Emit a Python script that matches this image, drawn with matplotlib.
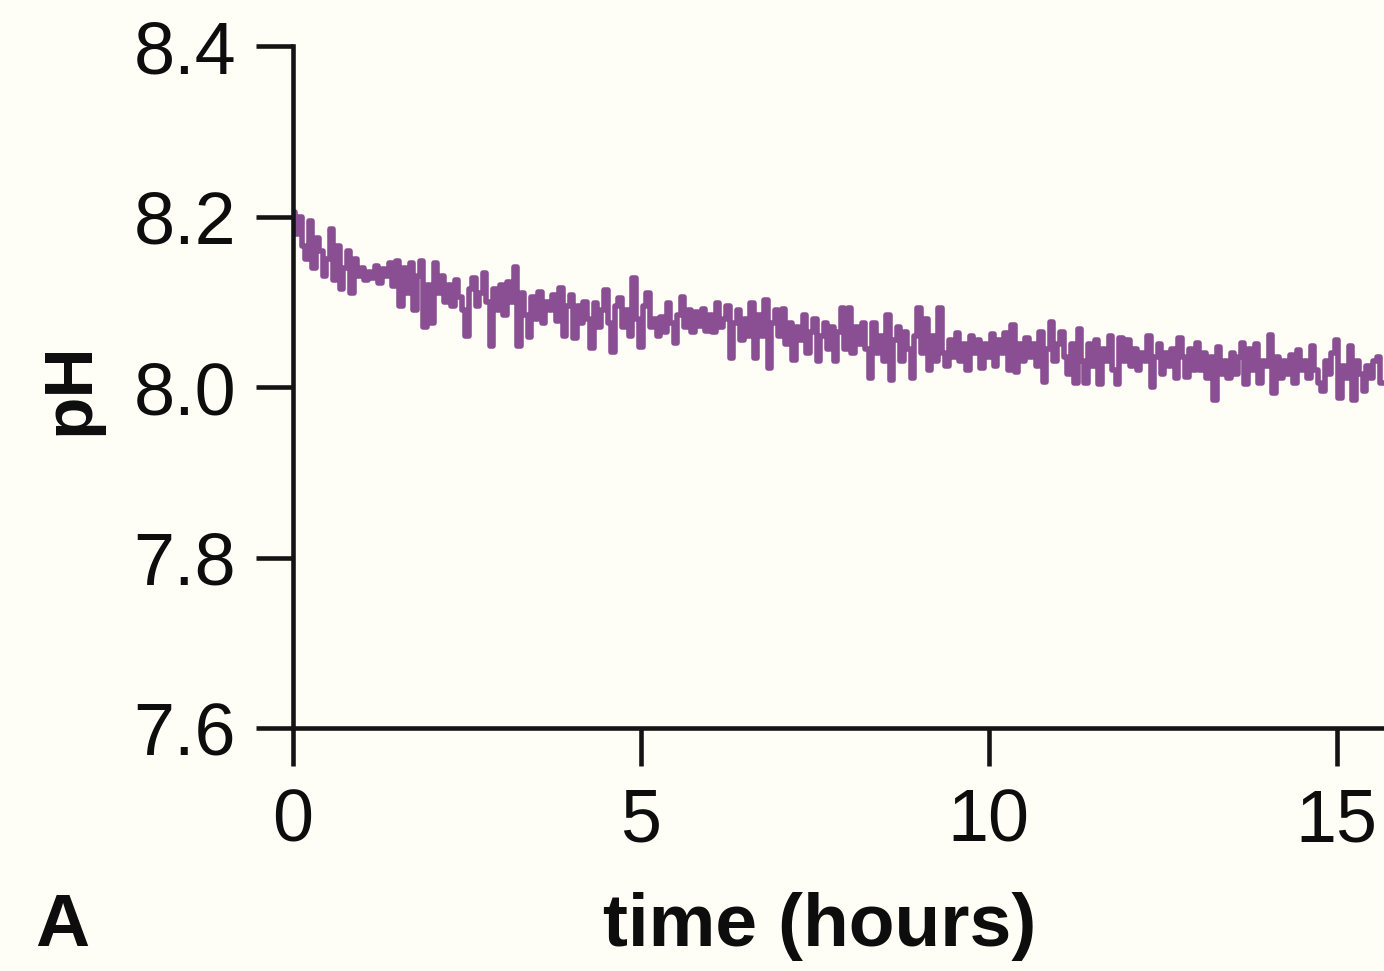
import numpy as np
import matplotlib
matplotlib.use("Agg")
import matplotlib.pyplot as plt

# pH readings, one every 0.05 hours
ph = [
    8.205, 8.180, 8.200, 8.165, 8.150, 8.195, 8.140, 8.175, 8.160, 8.130,
    8.150, 8.185, 8.125, 8.165, 8.115, 8.140, 8.160, 8.110, 8.150, 8.130,
    8.140, 8.125, 8.135, 8.128, 8.142, 8.122, 8.138, 8.130, 8.145, 8.118,
    8.148, 8.095, 8.140, 8.110, 8.145, 8.090, 8.130, 8.148, 8.070, 8.120,
    8.075, 8.145, 8.110, 8.130, 8.100, 8.120, 8.095, 8.125, 8.105, 8.090,
    8.060, 8.115, 8.128, 8.095, 8.110, 8.134, 8.100, 8.048, 8.115, 8.090,
    8.120, 8.085, 8.123, 8.100, 8.141, 8.048, 8.110, 8.085, 8.059, 8.105,
    8.080, 8.112, 8.075, 8.100, 8.090, 8.108, 8.078, 8.116, 8.060, 8.095,
    8.108, 8.058, 8.095, 8.075, 8.100, 8.080, 8.046, 8.098, 8.070, 8.090,
    8.114, 8.075, 8.041, 8.095, 8.104, 8.070, 8.090, 8.060, 8.128, 8.080,
    8.047, 8.095, 8.110, 8.070, 8.080, 8.060, 8.082, 8.065, 8.098, 8.075,
    8.052, 8.085, 8.106, 8.070, 8.090, 8.065, 8.088, 8.072, 8.092, 8.066,
    8.085, 8.065, 8.098, 8.070, 8.080, 8.095, 8.034, 8.075, 8.090, 8.055,
    8.080, 8.060, 8.098, 8.034, 8.085, 8.060, 8.102, 8.022, 8.075, 8.090,
    8.060, 8.092, 8.050, 8.075, 8.032, 8.070, 8.055, 8.085, 8.040, 8.065,
    8.080, 8.030, 8.060, 8.075, 8.045, 8.070, 8.030, 8.065, 8.093, 8.045,
    8.093, 8.040, 8.070, 8.050, 8.075, 8.045, 8.011, 8.075, 8.040, 8.060,
    8.030, 8.084, 8.008, 8.055, 8.070, 8.030, 8.065, 8.045, 8.010, 8.060,
    8.093, 8.040, 8.080, 8.020, 8.060, 8.030, 8.093, 8.040, 8.025, 8.055,
    8.035, 8.063, 8.030, 8.050, 8.020, 8.060, 8.040, 8.055, 8.022, 8.050,
    8.035, 8.062, 8.025, 8.055, 8.040, 8.063, 8.020, 8.073, 8.018, 8.050,
    8.030, 8.058, 8.035, 8.050, 8.025, 8.065, 8.006, 8.045, 8.076, 8.030,
    8.050, 8.065, 8.035, 8.015, 8.050, 8.005, 8.068, 8.030, 8.005, 8.050,
    8.025, 8.055, 8.003, 8.045, 8.030, 8.060, 8.020, 8.003, 8.058, 8.030,
    8.055, 8.025, 8.045, 8.020, 8.040, 8.030, 8.060, 8.000, 8.035, 8.050,
    8.015, 8.040, 8.025, 8.045, 8.010, 8.057, 8.035, 8.012, 8.045, 8.020,
    8.052, 8.020, 8.040, 8.010, 8.035, 7.985, 8.047, 8.015, 8.030, 8.010,
    8.040, 8.015, 8.035, 8.052, 8.003, 8.045, 8.020, 8.050, 8.005, 8.030,
    8.025, 8.061, 7.993, 8.035, 8.010, 8.030, 8.015, 8.038, 8.005, 8.043,
    8.020, 8.030, 8.010, 8.048, 8.020, 8.005, 7.995, 8.030, 8.015, 8.040,
    8.055, 7.987, 8.025, 8.010, 8.048, 7.985, 8.030, 8.015, 7.995, 8.025,
    8.010, 8.030, 8.035, 8.005,
]
sample_step = 0.05  # hours between readings
hours = np.arange(len(ph)) * sample_step

x_ticks = [0, 5, 10, 15]
y_ticks = [7.6, 7.8, 8.0, 8.2, 8.4]
y_tick_labels = ["7.6", "7.8", "8.0", "8.2", "8.4"]

plt.rcParams["font.family"] = ["Liberation Sans", "DejaVu Sans"]
bg = "#fefef7"

fig = plt.figure(figsize=(13.84, 9.71), dpi=100, facecolor=bg)
ax = fig.add_axes([293 / 1384, 243 / 971, 1 - 293 / 1384, 682 / 971])
ax.set_facecolor(bg)

# trace looks blocky in the original, so draw it stepped
ax.plot(hours, ph, color="#8a4f92", lw=4.0, drawstyle="steps-mid")

ax.set_xlim(0, 15.68)
ax.set_ylim(7.6, 8.4)
ax.set_xticks(x_ticks)
ax.set_yticks(y_ticks)
ax.set_yticklabels(y_tick_labels)

for side in ["top", "right"]:
    ax.spines[side].set_visible(False)
for side in ["left", "bottom"]:
    ax.spines[side].set_linewidth(3.3)
    ax.spines[side].set_color("#141414")

ax.tick_params(axis="both", direction="out", length=27, width=3.3,
               color="#141414", labelsize=53, labelcolor="#0d0d0d")
ax.tick_params(axis="y", pad=14)
ax.tick_params(axis="x", pad=16)

fig.text(70 / 1384, 0.600, "pH", rotation=90, ha="center", va="center",
         fontsize=50, fontweight="bold", color="#0d0d0d")
fig.text(820 / 1384, 25 / 971, "time (hours)", ha="center", va="baseline",
         fontsize=54, fontweight="bold", color="#0d0d0d")
fig.text(35 / 1384, 25 / 971, "A", ha="left", va="baseline",
         fontsize=54, fontweight="bold", color="#0d0d0d")

fig.savefig("out.png", dpi=100, facecolor=bg)
